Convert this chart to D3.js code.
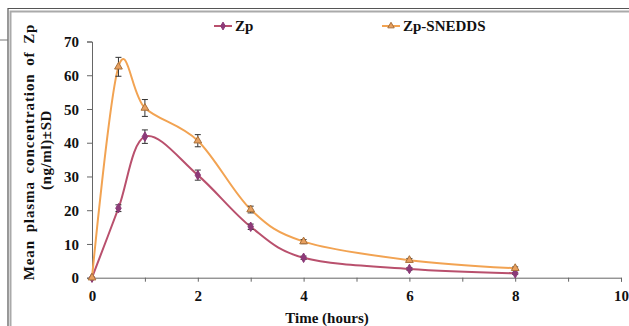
<!DOCTYPE html>
<html>
<head>
<meta charset="utf-8">
<script src="https://d3js.org/d3.v7.min.js"></script>
<style>
  body { margin: 0; background: #fff; }
  svg text { font-family: "Liberation Serif", "DejaVu Serif", serif; font-weight: bold; fill: #111; }
</style>
</head>
<body>
<svg id="chart" width="629" height="326"></svg>
<script>
// time points (hours)
var times = [0, 0.5, 1, 2, 3, 4, 6, 8];
// mean plasma concentration (ng/ml) and SD
var zp = [0, 20.6, 41.8, 30.4, 15.1, 5.9, 2.6, 1.3];
var zpSd = [0, 1.0, 2.0, 1.5, 0.8, 0.5, 0.4, 0.3];
var snedds = [0, 62.5, 50.3, 40.6, 20.2, 10.7, 5.2, 2.8];
var sneddsSd = [0, 2.8, 2.5, 1.8, 1.0, 0.6, 0.5, 0.4];
var xTicks = [0, 2, 4, 6, 8, 10];
var yTicks = [0, 10, 20, 30, 40, 50, 60, 70];

var series = [
  {name: "Zp", vals: zp, sd: zpSd, line: "#b9506d", mark: "#8c3a78", shape: d3.symbolDiamond, lx: 214},
  {name: "Zp-SNEDDS", vals: snedds, sd: sneddsSd, line: "#f2a352", mark: "#a8703a", shape: d3.symbolTriangle, lx: 382}
];

var svg = d3.select("#chart");

// frame
svg.append("path").attr("d", "M8,326V8.5H629").attr("fill", "none").attr("stroke", "#555").attr("stroke-width", 1.2);
svg.append("path").attr("d", "M10.5,326V11.5H629").attr("fill", "none").attr("stroke", "#aaa").attr("stroke-width", 2);
svg.append("line").attr("x1", 0).attr("x2", 8).attr("y1", 40).attr("y2", 40).attr("stroke", "#777");

var x = d3.scaleLinear().domain([0, 10]).range([92, 621]);
var y = d3.scaleLinear().domain([0, 70]).range([277.7, 41.5]);

// axes
var xAxis = svg.append("g").attr("transform", "translate(0," + y(0) + ")")
  .call(d3.axisBottom(x).tickValues(d3.range(0, 11, 1)).tickSize(4).tickFormat(function(d) { return xTicks.indexOf(d) >= 0 ? d : ""; }));
var yAxis = svg.append("g").attr("transform", "translate(" + x(0) + ",0)")
  .call(d3.axisLeft(y).tickValues(yTicks).tickSize(5).tickPadding(8));
[xAxis, yAxis].forEach(function(a) {
  a.select(".domain").attr("stroke", "#666");
  a.selectAll(".tick line").attr("stroke", "#666");
  a.selectAll("text").attr("font-size", 15).attr("font-family", null).attr("fill", "#111");
});
xAxis.selectAll("text").attr("dy", "1.1em");
yAxis.selectAll("text").attr("dy", "0.35em");

// axis titles
svg.append("text").attr("x", 327).attr("y", 323).attr("text-anchor", "middle").attr("font-size", 15).text("Time (hours)");
svg.append("text").attr("transform", "translate(34,152) rotate(-90)").attr("text-anchor", "middle").attr("font-size", 15)
  .attr("letter-spacing", 0.9).attr("word-spacing", 3).text("Mean plasma concentration of Zp");
svg.append("text").attr("transform", "translate(51,150) rotate(-90)").attr("text-anchor", "middle").attr("font-size", 15)
  .attr("letter-spacing", 0.6).text("(ng/ml)±SD");

var line = d3.line().x(function(d) { return x(d[0]); }).y(function(d) { return y(d[1]); })
  .curve(d3.curveCardinal.tension(0));

series.forEach(function(s) {
  var pts = times.map(function(t, i) { return [t, s.vals[i], s.sd[i]]; });
  svg.append("path").datum(pts).attr("d", line).attr("fill", "none").attr("stroke", s.line).attr("stroke-width", 2);

  var eb = svg.append("g").selectAll("g").data(pts.filter(function(p) { return p[2] > 0; })).join("g");
  eb.append("line").attr("x1", function(p) { return x(p[0]); }).attr("x2", function(p) { return x(p[0]); })
    .attr("y1", function(p) { return y(p[1] - p[2]); }).attr("y2", function(p) { return y(p[1] + p[2]); });
  eb.append("line").attr("x1", function(p) { return x(p[0]) - 3; }).attr("x2", function(p) { return x(p[0]) + 3; })
    .attr("y1", function(p) { return y(p[1] + p[2]); }).attr("y2", function(p) { return y(p[1] + p[2]); });
  eb.append("line").attr("x1", function(p) { return x(p[0]) - 3; }).attr("x2", function(p) { return x(p[0]) + 3; })
    .attr("y1", function(p) { return y(p[1] - p[2]); }).attr("y2", function(p) { return y(p[1] - p[2]); });
  eb.selectAll("line").attr("stroke", "#333").attr("stroke-width", 1);

  svg.append("g").selectAll("path").data(pts).join("path")
    .attr("d", d3.symbol().type(s.shape).size(26))
    .attr("transform", function(p) { return "translate(" + x(p[0]) + "," + y(p[1]) + ")"; })
    .attr("fill", s.shape === d3.symbolTriangle ? "#e8a060" : s.mark)
    .attr("stroke", s.mark).attr("stroke-width", 1);

  // legend
  var lg = svg.append("g").attr("transform", "translate(" + s.lx + ",26)");
  lg.append("line").attr("x1", 0).attr("x2", 18).attr("stroke", s.line).attr("stroke-width", 2);
  lg.append("path").attr("d", d3.symbol().type(s.shape).size(18)).attr("transform", "translate(9,0)")
    .attr("fill", s.shape === d3.symbolTriangle ? "#e8a060" : s.mark).attr("stroke", s.mark);
  lg.append("text").attr("x", 21).attr("y", 5).attr("font-size", 15).text(s.name);
});
</script>
</body>
</html>
